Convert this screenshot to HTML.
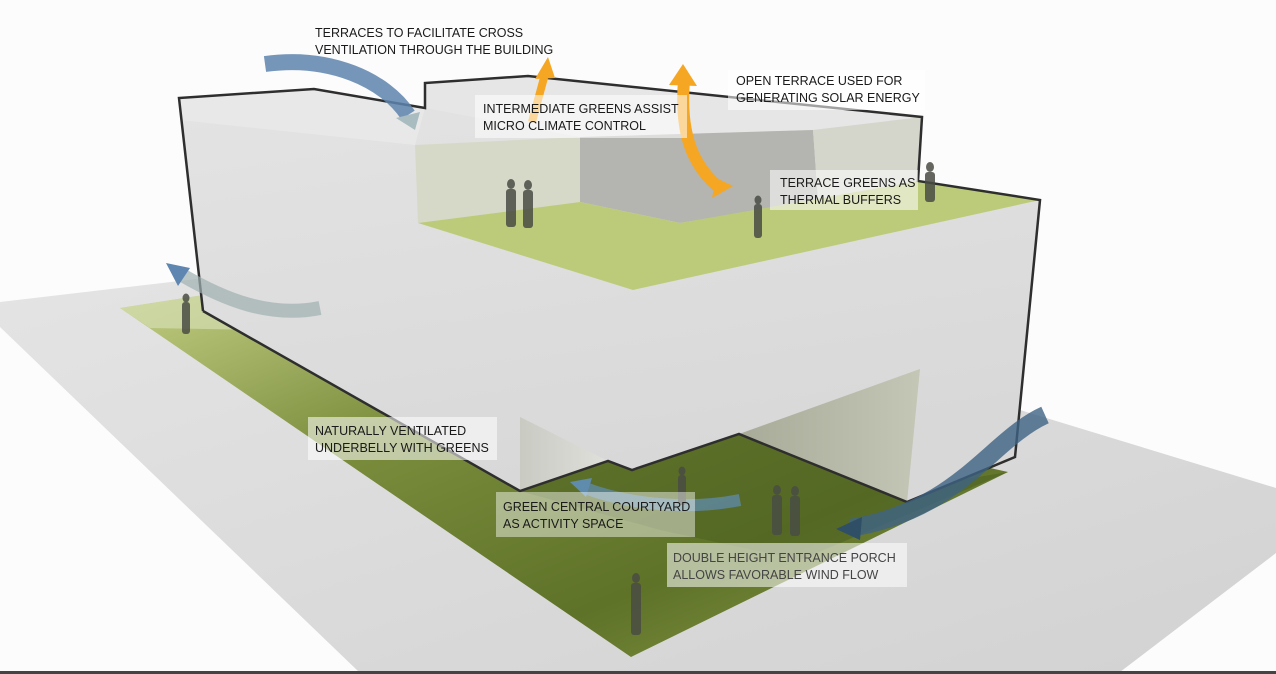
<!DOCTYPE html>
<html><head><meta charset="utf-8"><style>
html,body{margin:0;padding:0;background:#fcfcfc;width:1276px;height:674px;overflow:hidden}
svg{display:block}
text{font-family:"Liberation Sans",sans-serif;font-size:12.5px;fill:#1a1a1a}
</style></head><body>
<svg width="1276" height="674" viewBox="0 0 1276 674" xmlns="http://www.w3.org/2000/svg">
<defs>
<linearGradient id="gnd" x1="0" y1="0" x2="1" y2="1">
<stop offset="0" stop-color="#e4e4e4"/><stop offset="1" stop-color="#d2d2d2"/></linearGradient>
<linearGradient id="strip" x1="0" y1="0" x2="1" y2="1">
<stop offset="0" stop-color="#c3cf84"/><stop offset="0.35" stop-color="#7a8c3c"/><stop offset="0.7" stop-color="#5e7228"/><stop offset="1" stop-color="#8b9c4a"/></linearGradient>
<linearGradient id="face" x1="0" y1="0" x2="0.3" y2="1">
<stop offset="0" stop-color="#e4e4e4"/><stop offset="1" stop-color="#d8d8d8"/></linearGradient>
<linearGradient id="col" x1="0" y1="0" x2="1" y2="0">
<stop offset="0" stop-color="#a8ab98"/><stop offset="1" stop-color="#c4c6b6"/></linearGradient>
<linearGradient id="col2" x1="0" y1="0" x2="1" y2="0">
<stop offset="0" stop-color="#c9cac2"/><stop offset="1" stop-color="#e0e0dc"/></linearGradient>
</defs>
<polygon points="0,302 205,278 1020,410 1276,488 1276,553 1120,672 359,672 0,327" fill="url(#gnd)"/>
<rect x="0" y="671" width="1276" height="3" fill="#444"/>
<polygon points="120,308 210,294 1008,472 631,657" fill="url(#strip)"/>
<polygon points="120,308 210,294 260,330 150,328" fill="#d4ddb0" opacity="0.7"/>
<polygon points="520,491 608,461 632,470 739,434 907,502 960,480 1008,472 800,560 660,530" fill="#4d6020" opacity="0.55"/>
<!-- building main -->
<polygon points="179,98 314,89 425,108 425,83 528,76 922,117 918,181 1040,200 1015,457 907,502 739,434 632,470 608,461 520,491 203,311" fill="url(#face)"/>
<!-- columns (on top of building face) -->
<polygon points="520,417 608,461 520,491" fill="url(#col2)"/>
<polygon points="920,369 907,502 739,434" fill="url(#col)"/>
<polygon points="179,98 314,89 425,108 415,145 180,120" fill="#e8e8e8"/>
<polygon points="425,83 528,76 922,117 813,130 580,137 425,108" fill="#e6e6e6"/>
<polygon points="415,145 580,137 580,202 418,223" fill="#d6d9c8"/>
<polygon points="580,137 813,130 818,200 680,223 580,202" fill="#b4b5b0"/>
<polygon points="813,130 922,117 918,181 818,200" fill="#d4d6cc"/>
<polygon points="418,223 580,202 680,223 918,181 1040,200 633,290" fill="#bccb7a"/>
<polyline points="203,311 179,98 314,89 425,108 425,83 528,76 922,117 918,181 1040,200 1015,457 907,502 739,434 632,470 608,461 520,491 203,311" fill="none" stroke="#2e2e2e" stroke-width="2.5" stroke-linejoin="miter"/>
<path d="M265,64 C330,55 385,80 408,115" fill="none" stroke="#5e84ad" stroke-width="16" opacity="0.85"/>
<polygon points="396,118 420,112 415,130" fill="#a9bcc0"/>
<path d="M320,308 C270,318 225,300 182,275" fill="none" stroke="#9fb0b0" stroke-width="14" opacity="0.7"/>
<polygon points="166,263 190,268 178,286" fill="#5f86b0"/>
<path d="M740,500 C690,510 630,505 585,488" fill="none" stroke="#5f8bad" stroke-width="12" opacity="0.75"/>
<polygon points="570,482 592,478 586,497" fill="#5f8bad"/>
<path d="M1045,415 C990,440 960,510 850,528" fill="none" stroke="#3f6384" stroke-width="18" opacity="0.8"/>
<polygon points="836,529 862,517 860,540" fill="#2f4f66"/>
<path d="M532,122 L545,74" fill="none" stroke="#f5a623" stroke-width="8"/>
<polygon points="548,57 535,79 555,78" fill="#f5a623"/>
<path d="M684,80 C680,130 690,165 722,190" fill="none" stroke="#f5a623" stroke-width="12"/>
<polygon points="683,64 669,85 697,86" fill="#f5a623"/>
<polygon points="712,198 733,186 716,178" fill="#f5a623"/>
<g fill="#4a4d44" opacity="0.85">
<ellipse cx="511" cy="184" rx="4" ry="5"/><rect x="506" y="189" width="10" height="38" rx="3"/>
<ellipse cx="528" cy="185" rx="4" ry="5"/><rect x="523" y="190" width="10" height="38" rx="3"/>
<ellipse cx="758" cy="200" rx="3.5" ry="4.5"/><rect x="754" y="204" width="8" height="34" rx="3"/>
<ellipse cx="930" cy="167" rx="4" ry="5"/><rect x="925" y="172" width="10" height="30" rx="3"/>
<ellipse cx="186" cy="298" rx="3.5" ry="4.5"/><rect x="182" y="302" width="8" height="32" rx="3"/>
<ellipse cx="682" cy="471" rx="3.5" ry="4.5"/><rect x="678" y="475" width="8" height="30" rx="3"/>
<ellipse cx="777" cy="490" rx="4" ry="5"/><rect x="772" y="495" width="10" height="40" rx="3"/>
<ellipse cx="795" cy="491" rx="4" ry="5"/><rect x="790" y="496" width="10" height="40" rx="3"/>
<ellipse cx="636" cy="578" rx="4" ry="5"/><rect x="631" y="583" width="10" height="52" rx="3"/>
</g>
<text x="315" y="37">TERRACES TO FACILITATE CROSS</text>
<text x="315" y="54">VENTILATION THROUGH THE BUILDING</text>
<rect x="475" y="95" width="212" height="43" fill="#fff" opacity="0.55"/>
<text x="483" y="113">INTERMEDIATE GREENS ASSIST</text>
<text x="483" y="130">MICRO CLIMATE CONTROL</text>
<rect x="728" y="70" width="197" height="40" fill="#fff" opacity="0.55"/>
<text x="736" y="85">OPEN TERRACE USED FOR</text>
<text x="736" y="102">GENERATING SOLAR ENERGY</text>
<rect x="770" y="170" width="148" height="40" fill="#fff" opacity="0.55"/>
<text x="780" y="187">TERRACE GREENS AS</text>
<text x="780" y="204">THERMAL BUFFERS</text>
<rect x="308" y="417" width="189" height="43" fill="#fff" opacity="0.55"/>
<text x="315" y="435">NATURALLY VENTILATED</text>
<text x="315" y="452">UNDERBELLY WITH GREENS</text>
<rect x="496" y="492" width="199" height="45" fill="#fff" opacity="0.45"/>
<text x="503" y="511">GREEN CENTRAL COURTYARD</text>
<text x="503" y="528">AS ACTIVITY SPACE</text>
<rect x="667" y="543" width="240" height="44" fill="#fff" opacity="0.55"/>
<text x="673" y="562" style="fill:#444">DOUBLE HEIGHT ENTRANCE PORCH</text>
<text x="673" y="579" style="fill:#444">ALLOWS FAVORABLE WIND FLOW</text>
</svg>
</body></html>
